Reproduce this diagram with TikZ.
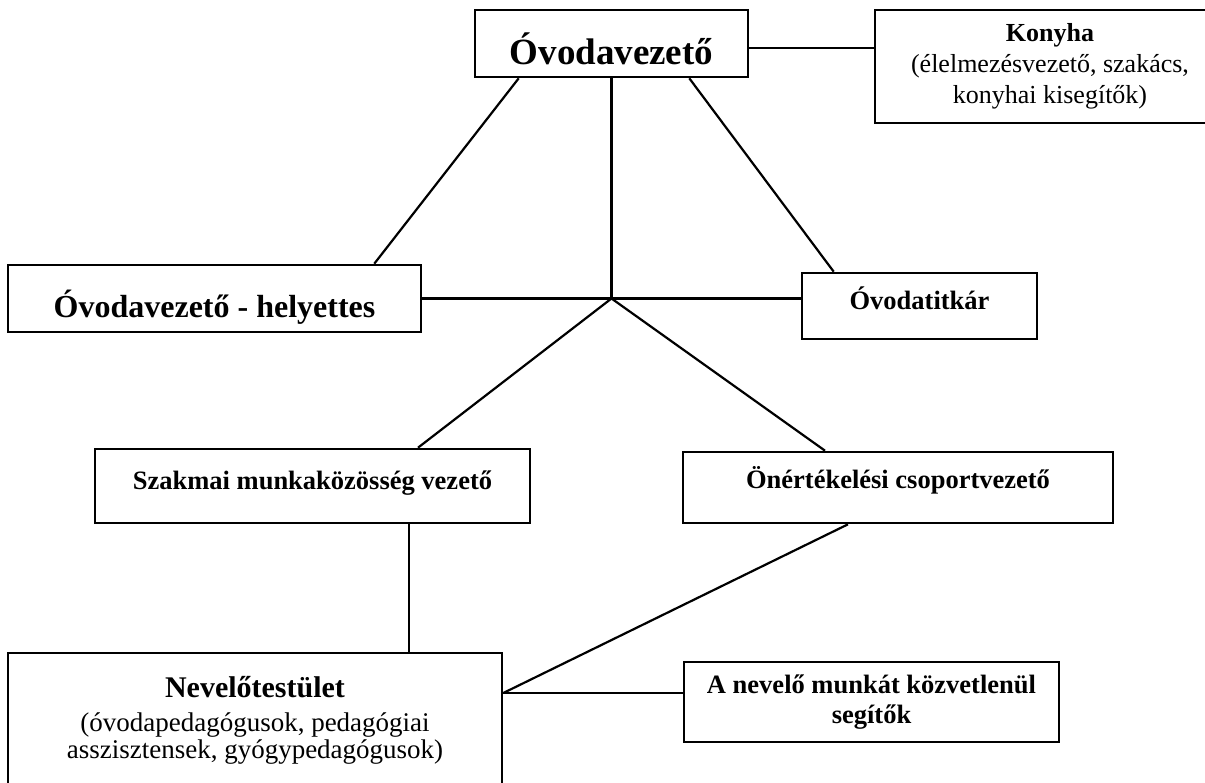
\documentclass[tikz,border=0pt]{standalone}
\usepackage{fontspec}
\setmainfont{Liberation Serif}
\usetikzlibrary{positioning}

\begin{document}
\begin{tikzpicture}[x=1pt,y=-1pt,
    box/.style={draw,line width=2.6pt,inner sep=0pt,align=center},
    link/.style={line width=2.2pt}]
  \useasboundingbox (0,0) rectangle (1205,783);
  \node[box,minimum width=273pt,minimum height=67pt,text height=43pt,text depth=0pt,
        font=\fontsize{37}{44}\selectfont\bfseries] (vez) at (611.5,43.5) {Óvodavezető};
  \node[box,minimum width=350pt,minimum height=113pt,
        font=\fontsize{26}{31}\selectfont] (konyha) at (1050,66.5)
        {\textbf{Konyha}\\(élelmezésvezető, szakács,\\konyhai kisegítők)};
  \node[box,minimum width=413pt,minimum height=67pt,text height=39pt,text depth=0pt,
        font=\fontsize{32}{38}\selectfont\bfseries] (hely) at (214.5,298.5) {Óvodavezető - helyettes};
  \node[box,minimum width=235pt,minimum height=66pt,text height=20pt,text depth=12pt,
        font=\fontsize{26.5}{30}\selectfont\bfseries] (titkar) at (919.5,306) {Óvodatitkár};
  \node[box,minimum width=435pt,minimum height=74pt,text height=20pt,text depth=14pt,
        font=\fontsize{26.5}{30}\selectfont\bfseries] (szak) at (312.5,486) {Szakmai munkaközösség vezető};
  \node[box,minimum width=430pt,minimum height=71pt,text height=20pt,text depth=19pt,
        font=\fontsize{26.5}{30}\selectfont\bfseries] (onert) at (898,487.5) {Önértékelési csoportvezető};
  \node[box,minimum width=494pt,minimum height=135pt,
        font=\fontsize{27}{27}\selectfont] (nevelo) at (255,720.5)
        {\textbf{\fontsize{30}{30}\selectfont Nevelőtestület}\\[7pt](óvodapedagógusok, pedagógiai\\asszisztensek, gyógypedagógusok)};
  \node[box,minimum width=375pt,minimum height=80pt,
        font=\fontsize{26.5}{30}\selectfont\bfseries] (segito) at (871.5,702)
        {A nevelő munkát közvetlenül\\segítők};

  \coordinate (hub) at (vez.south |- hely.east);
  \coordinate (kk) at ([yshift=-4.5pt]vez.east);
  \coordinate (sd) at ([xshift=96.5pt]szak.south);
  \coordinate (sj) at ([yshift=9pt]segito.west);
  \coordinate (nj) at (sj -| nevelo.east);

  \draw[link] (kk) -- (kk -| konyha.west);
  \draw[link] ([xshift=45pt]vez.south west) -- ([xshift=-48pt]hely.north east);
  \draw[link] ([xshift=-60pt]vez.south east) -- ([xshift=33pt]titkar.north west);
  \draw[link] (vez.south) -- (hub);
  \draw[link] (hely.east) -- (hely.east -| titkar.west);
  \draw[link] (hub) -- ([xshift=105.5pt]szak.north);
  \draw[link] (hub) -- ([xshift=-73pt]onert.north);
  \draw[link] (sd) -- (sd |- nevelo.north);
  \draw[link] ([xshift=-50pt]onert.south) -- (nj);
  \draw[link] (sj) -- (nj);
\end{tikzpicture}
\end{document}
